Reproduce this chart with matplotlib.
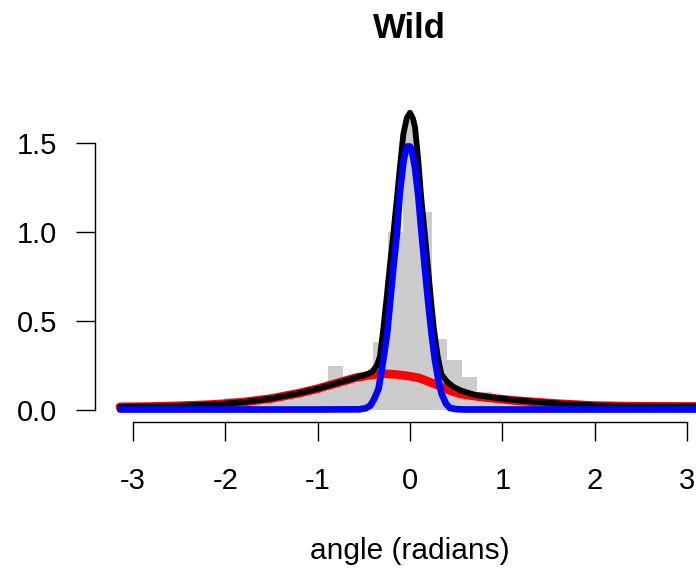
import numpy as np
import matplotlib
matplotlib.use("Agg")
import matplotlib.pyplot as plt

plt.rcParams['font.family'] = ['Liberation Sans', 'DejaVu Sans']

# histogram: 39 equal bins over [-pi, pi]
hist_breaks = np.linspace(-np.pi, np.pi, 40)
hist_density = [0.02, 0.04, 0.03, 0.04, 0.02, 0.03, 0.05, 0.07, 0.05, 0.06,
                0.08, 0.09, 0.10, 0.10, 0.25, 0.15, 0.17, 0.38, 1.00, 1.63,
                1.11, 0.40, 0.28, 0.185, 0.10, 0.065, 0.065, 0.065, 0.04, 0.03,
                0.02, 0.02, 0.02, 0.02, 0.04, 0.04, 0.02, 0.01, 0.02]

# broad component (red)
red_x = [-3.14, -2.8, -2.5, -2.2, -2.0, -1.8, -1.5, -1.2, -1.0, -0.8, -0.6,
         -0.45, -0.3, -0.15, 0.0, 0.1, 0.2, 0.3, 0.43, 0.55, 0.7, 0.9, 1.1,
         1.3, 1.6, 2.0, 2.5, 3.14]
red_y = [0.018, 0.02, 0.024, 0.03, 0.036, 0.045, 0.065, 0.095, 0.12, 0.15,
         0.18, 0.195, 0.205, 0.2, 0.19, 0.18, 0.16, 0.14, 0.11, 0.09, 0.078,
         0.066, 0.055, 0.047, 0.036, 0.025, 0.021, 0.02]

# narrow component (blue)
blue_x = [-3.14, -1.0, -0.55, -0.48, -0.43, -0.39, -0.34, -0.29, -0.25, -0.22,
          -0.18, -0.14, -0.11, -0.07, -0.035, 0.0, 0.02, 0.054, 0.09, 0.126,
          0.16, 0.198, 0.235, 0.27, 0.31, 0.343, 0.39, 0.43, 0.5, 0.6, 1.0,
          3.14]
blue_y = [0.003, 0.003, 0.004, 0.01, 0.025, 0.06, 0.12, 0.28, 0.42, 0.58,
          0.8, 1.0, 1.22, 1.4, 1.48, 1.48, 1.46, 1.36, 1.2, 0.99, 0.8, 0.6,
          0.42, 0.28, 0.16, 0.09, 0.035, 0.012, 0.005, 0.003, 0.003, 0.003]

# total mixture density (black)
black_x = [-3.14, -2.8, -2.5, -2.2, -2.0, -1.8, -1.5, -1.2, -1.0, -0.8, -0.6,
           -0.47, -0.41, -0.36, -0.325, -0.29, -0.253, -0.22, -0.18, -0.14,
           -0.108, -0.072, -0.035, 0.0, 0.03, 0.054, 0.09, 0.12, 0.16, 0.198,
           0.23, 0.26, 0.3, 0.34, 0.4, 0.47, 0.55, 0.7, 0.9, 1.1, 1.3, 1.6,
           2.0, 2.5, 3.14]
black_y = [0.018, 0.02, 0.024, 0.03, 0.036, 0.045, 0.065, 0.095, 0.12, 0.15,
           0.18, 0.2, 0.215, 0.25, 0.3, 0.45, 0.63, 0.8, 0.99, 1.2, 1.37, 1.55,
           1.64, 1.67, 1.64, 1.59, 1.4, 1.2, 0.99, 0.78, 0.6, 0.45, 0.3, 0.2,
           0.16, 0.13, 0.11, 0.085, 0.07, 0.058, 0.048, 0.037, 0.026, 0.021,
           0.02]

fig = plt.figure(figsize=(6.96, 5.71), dpi=100)
ax = fig.add_axes([95 / 696, 149 / 571, 630 / 696, 323 / 571])

widths = np.diff(hist_breaks)
ax.bar(hist_breaks[:-1], hist_density, width=widths, align='edge',
       color='#cccccc', edgecolor='none', zorder=1)

ax.plot(red_x, red_y, color='#ff0000', lw=6.2, solid_capstyle='round',
        solid_joinstyle='round', zorder=2)
ax.plot(black_x, black_y, color='black', lw=4.2, solid_capstyle='round',
        solid_joinstyle='round', zorder=3)
ax.plot(blue_x, blue_y, color='#0000ff', lw=4.8, solid_capstyle='round',
        solid_joinstyle='round', zorder=4)

ax.set_xlim(-3.41, 3.41)
ax.set_ylim(-0.04 * 1.68, 1.68 * 1.04)

for side in ['top', 'right']:
    ax.spines[side].set_visible(False)
ax.spines['left'].set_bounds(0, 1.5)
ax.spines['bottom'].set_bounds(-3, 3)
ax.spines['left'].set_linewidth(1.0)
ax.spines['bottom'].set_linewidth(1.0)

ax.set_xticks([-3, -2, -1, 0, 1, 2, 3])
ax.set_xticklabels(['-3', '-2', '-1', '0', '1', '2', '3'])
ax.set_yticks([0.0, 0.5, 1.0, 1.5])
ax.set_yticklabels(['0.0', '0.5', '1.0', '1.5'])
ax.tick_params(axis='both', length=13.5, width=1.0, labelsize=21)
ax.tick_params(axis='x', pad=19)
ax.tick_params(axis='y', pad=14)

ax.set_xlabel('angle (radians)', fontsize=21.5, labelpad=30)
fig.text(409 / 696, 1 - 28 / 571, 'Wild', ha='center', va='center',
         fontsize=25, fontweight='bold')

fig.savefig('out.png', dpi=100)
